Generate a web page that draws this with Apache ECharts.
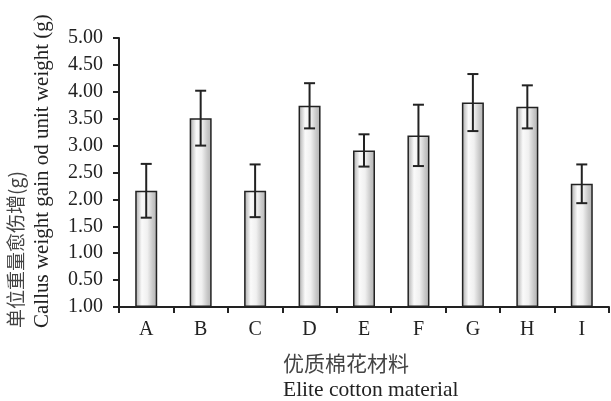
<!DOCTYPE html>
<html><head><meta charset="utf-8">
<script src="https://cdn.jsdelivr.net/npm/echarts@6/dist/echarts.min.js"></script>
<style>html,body{margin:0;padding:0;background:#fff}#c{width:611px;height:401px}</style>
</head><body><div id="c"></div>
<script>
var categories = ['A','B','C','D','E','F','G','H','I'];
var means = [2.16, 3.51, 2.16, 3.74, 2.91, 3.19, 3.80, 3.72, 2.29];
var errors = [0.50, 0.51, 0.49, 0.42, 0.30, 0.57, 0.53, 0.40, 0.36];
var yTickLabels = ['1.00','0.50','1.00','1.50','2.00','2.50','3.00','3.50','4.00','4.50','5.00'];
var xTitleCn = '优质棉花材料';
var xTitleEn = 'Elite cotton material';
var yTitleCn = '单位重量愈伤增(g)';
var yTitleEn = 'Callus weight gain od unit weight (g)';

var chart = echarts.init(document.getElementById('c'), null, {renderer:'canvas'});
var serif = '"Liberation Serif","Times New Roman",serif';
var cjk = '"Noto Sans CJK SC",sans-serif';
var errData = categories.map(function(c,i){ return [i, means[i]-errors[i], means[i]+errors[i]]; });

chart.setOption({
  animation:false,
  grid:{left:119, right:2, top:38, bottom:94},
  xAxis:{
    type:'category', data:categories, boundaryGap:true,
    axisLine:{lineStyle:{color:'#222', width:2}},
    axisTick:{show:true, inside:false, length:6, interval:0, alignWithLabel:false, lineStyle:{color:'#222', width:2}},
    axisLabel:{margin:13, color:'#222', fontFamily:serif, fontSize:20, interval:0}
  },
  yAxis:{
    type:'value', min:0, max:5, interval:0.5,
    splitLine:{show:false},
    axisLine:{show:true, lineStyle:{color:'#222', width:2}},
    axisTick:{show:true, inside:false, length:6, lineStyle:{color:'#222', width:2}},
    axisLabel:{margin:16, color:'#222', fontFamily:serif, fontSize:20,
      formatter:function(v){ return yTickLabels[Math.round(v/0.5)]; }}
  },
  series:[
    {
      type:'bar', data:means, barWidth:22,
      itemStyle:{
        borderColor:'#222', borderWidth:1.5,
        color:new echarts.graphic.LinearGradient(0,0,1,0,[
          {offset:0, color:'#a8a8a8'},
          {offset:0.3, color:'#fafafa'},
          {offset:0.55, color:'#f0f0f0'},
          {offset:0.8, color:'#c8c8c8'},
          {offset:1, color:'#b0b0b0'}
        ])
      }
    },
    {
      type:'custom', data:errData, z:10,
      renderItem:function(params, api){
        var x = api.coord([api.value(0), api.value(1)]);
        var top = api.coord([api.value(0), api.value(2)]);
        var hw = 5.5;
        var st = {stroke:'#222', lineWidth:2};
        return {type:'group', children:[
          {type:'line', shape:{x1:x[0], y1:x[1], x2:top[0], y2:top[1]}, style:st},
          {type:'line', shape:{x1:x[0]-hw, y1:x[1], x2:x[0]+hw, y2:x[1]}, style:st},
          {type:'line', shape:{x1:top[0]-hw, y1:top[1], x2:top[0]+hw, y2:top[1]}, style:st}
        ]};
      }
    }
  ],
  graphic:[
    {type:'text', left:283, top:353, style:{text:xTitleCn, font:'21px '+cjk, fill:'#444'}},
    {type:'text', left:283, top:379, style:{text:xTitleEn, font:'21.5px '+serif, fill:'#222'}},
    {type:'text', x:16, y:328, rotation:Math.PI/2, style:{text:yTitleCn, font:'19px '+cjk, fill:'#444', textAlign:'left', textVerticalAlign:'middle'}},
    {type:'text', x:42, y:328, rotation:Math.PI/2, style:{text:yTitleEn, font:'21px '+serif, fill:'#222', textAlign:'left', textVerticalAlign:'middle'}}
  ]
});
</script></body></html>
